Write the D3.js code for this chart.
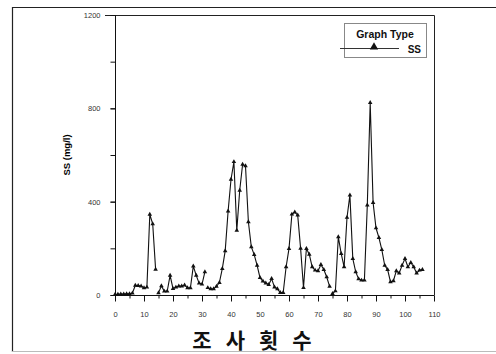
<!DOCTYPE html>
<html>
<head>
<meta charset="utf-8">
<script src="https://cdn.jsdelivr.net/npm/d3@7"></script>
<style>
  body { margin: 0; background: #fff; }
  svg { display: block; }
</style>
</head>
<body>
<div id="chart"></div>
<script>
// SS concentration per survey round (index = round number)
const ssValues = [
  2, 3, 4, 4, 5, 5, 8, 41, 40, 38,
  30, 33, 345, 305, 110, 9, 39, 16, 16, 84,
  27, 33, 38, 38, 42, 30, 30, 124, 84, 51,
  46, 99, 31, 26, 26, 37, 53, 113, 189, 359,
  495, 571, 277, 448, 560, 553, 313, 206, 173, 127,
  74, 59, 51, 44, 70, 34, 26, 10, 10, 120,
  199, 346, 355, 342, 200, 31, 199, 174, 120, 106,
  103, 130, 109, 77, 37, 6, 17, 249, 177, 120,
  332, 428, 156, 99, 69, 63, 63, 385, 824, 396,
  287, 246, 194, 127, 109, 56, 60, 103, 94, 127,
  156, 120, 139, 120, 94, 106, 109
];
// the line is broken after these rounds
const gapAfter = [14, 31, 74];

const xTicks = [0, 10, 20, 30, 40, 50, 60, 70, 80, 90, 100, 110];
const xTickLabels = ["0", "10", "20", "30", "40", "50", "60", "70", "80", "90", "100", "110"];
const yTicks = [0, 400, 800, 1200];

const width = 496, height = 354;
const margin = { top: 15, right: 62, bottom: 59, left: 115 };
const sans = "Liberation Sans, Arial, sans-serif";

const svg = d3.select("#chart").append("svg")
  .attr("width", width)
  .attr("height", height);

// outer page frame
svg.append("path")
  .attr("d", "M12.5,352 V7.5 H496")
  .attr("fill", "none")
  .attr("stroke", "#222")
  .attr("stroke-width", 1.2);
svg.append("line")
  .attr("x1", 12).attr("x2", 496).attr("y1", 351.5).attr("y2", 351.5)
  .attr("stroke", "#bbb");

const x = d3.scaleLinear().domain([0, 110]).range([margin.left, width - margin.right]);
const y = d3.scaleLinear().domain([0, 1200]).range([height - margin.bottom, margin.top]);

// plot frame (top + right)
svg.append("path")
  .attr("d", `M${x(0) - 10},${y(1200) + 0.5} H${x(110) + 0.5} V${y(0)}`)
  .attr("fill", "none")
  .attr("stroke", "#222");

// x axis
const xAxis = svg.append("g")
  .attr("transform", `translate(0,${y(0) + 0.5})`);
xAxis.call(d3.axisBottom(x).tickValues(d3.range(0, 111, 5)).tickSize(3).tickFormat(""))
  .call(g => g.select(".domain").remove());
xAxis.append("line").attr("x1", x(0)).attr("x2", x(110)).attr("stroke", "#111");
xAxis.append("g")
  .call(d3.axisBottom(x).tickValues(xTicks).tickSize(6).tickPadding(10)
    .tickFormat((d, i) => xTickLabels[i]))
  .call(g => g.select(".domain").remove())
  .call(g => g.selectAll("text").attr("font-size", 7.5).attr("fill", "#333")
    .attr("font-family", sans));
xAxis.selectAll("line").attr("stroke", "#111");

// y axis
const yAxis = svg.append("g")
  .attr("transform", `translate(${x(0) + 0.5},0)`);
yAxis.call(d3.axisLeft(y).tickValues(d3.range(0, 1201, 200)).tickSize(5).tickFormat(""))
  .call(g => g.select(".domain").remove());
yAxis.append("line").attr("y1", y(0)).attr("y2", y(1200)).attr("stroke", "#111");
yAxis.append("g")
  .call(d3.axisLeft(y).tickValues(yTicks).tickSize(5).tickPadding(10).tickFormat(d3.format("d")))
  .call(g => g.select(".domain").remove())
  .call(g => g.selectAll("text").attr("font-size", 7.5).attr("fill", "#333")
    .attr("font-family", sans));
yAxis.selectAll("line").attr("stroke", "#111");

// y title
svg.append("text")
  .attr("transform", `translate(70,${(y(0) + y(1200)) / 2}) rotate(-90)`)
  .attr("text-anchor", "middle")
  .attr("font-family", sans)
  .attr("font-weight", "bold")
  .attr("font-size", 9.5)
  .attr("fill", "#000")
  .text("SS (mg/l)");

// x title
svg.append("text")
  .attr("x", 259)
  .attr("y", 348)
  .attr("text-anchor", "middle")
  .attr("font-family", "Noto Sans CJK KR, sans-serif")
  .attr("font-weight", "bold")
  .attr("font-size", 21)
  .attr("letter-spacing", 14)
  .attr("fill", "#111")
  .text("조사횟수");

// data line
const points = ssValues.map((v, i) => ({ i, v }));
const segments = [];
let start = 0;
gapAfter.concat([ssValues.length - 1]).forEach(end => {
  segments.push(points.slice(start, end + 1));
  start = end + 1;
});

const line = d3.line().x(d => x(d.i)).y(d => y(d.v));
svg.append("g").selectAll("path")
  .data(segments)
  .join("path")
  .attr("d", line)
  .attr("fill", "none")
  .attr("stroke", "#111")
  .attr("stroke-width", 1.1);

const tri = d3.symbol().type(d3.symbolTriangle).size(9);
svg.append("g").selectAll("path")
  .data(points)
  .join("path")
  .attr("transform", d => `translate(${x(d.i)},${y(d.v)})`)
  .attr("d", tri)
  .attr("fill", "#111");

// legend
const lg = svg.append("g").attr("transform", "translate(344,23)");
lg.append("rect")
  .attr("x", 0.5).attr("y", 0.5).attr("width", 82).attr("height", 34)
  .attr("fill", "#fff").attr("stroke", "#888");
lg.append("text")
  .attr("x", 41).attr("y", 15)
  .attr("text-anchor", "middle")
  .attr("font-family", sans)
  .attr("font-weight", "bold")
  .attr("font-size", 10.5)
  .attr("fill", "#111")
  .text("Graph Type");
lg.append("line")
  .attr("x1", -4).attr("x2", 55).attr("y1", 25.5).attr("y2", 25.5)
  .attr("stroke", "#333");
lg.append("path")
  .attr("transform", "translate(30,24)")
  .attr("d", d3.symbol().type(d3.symbolTriangle).size(30))
  .attr("fill", "#111");
lg.append("text")
  .attr("x", 77).attr("y", 29.5)
  .attr("text-anchor", "end")
  .attr("font-family", sans)
  .attr("font-weight", "bold")
  .attr("font-size", 10)
  .attr("fill", "#111")
  .text("SS");
</script>
</body>
</html>
